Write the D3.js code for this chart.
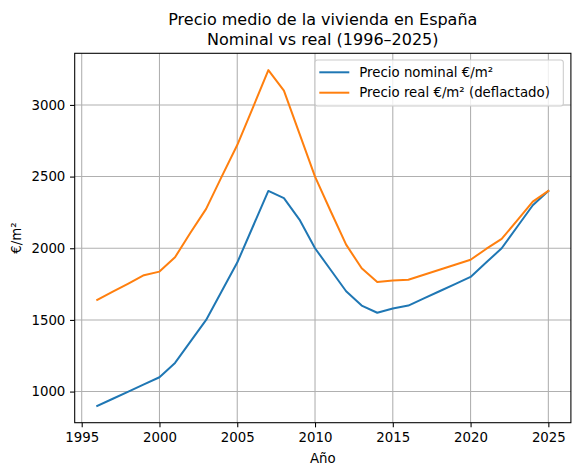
<!DOCTYPE html>
<html><head><meta charset="utf-8">
<script src="https://cdn.jsdelivr.net/npm/d3@7"></script>
<style>body{margin:0;background:#fff}svg{display:block}text{font-family:"DejaVu Sans",sans-serif;fill:#000}</style>
</head><body>
<svg id="c" width="580" height="476"></svg>
<script>
const years = d3.range(1996, 2026);
const nominal = [900,950,1000,1050,1100,1200,1350,1500,1700,1900,2150,2400,2350,2200,2000,1850,1700,1600,1550,1580,1600,1650,1700,1750,1800,1900,2000,2150,2300,2400];
const real = [1640,1697,1753,1812,1837,1937,2110,2275,2500,2720,2980,3243,3100,2800,2500,2260,2025,1860,1765,1775,1780,1815,1850,1885,1920,1995,2065,2195,2325,2400];
const seriesNames = ["Precio nominal €/m²","Precio real €/m² (deflactado)"];
const colors = ["#1f77b4","#ff7f0e"];
const xTicks = [1995,2000,2005,2010,2015,2020,2025];
const yTicks = [1000,1500,2000,2500,3000];
const titleLines = ["Precio medio de la vivienda en España","Nominal vs real (1996–2025)"];
const xLabel = "Año", yLabel = "€/m²";

const L=74.7, R=570.9, T=53.3, B=422.7;
const allV = nominal.concat(real);
const vmin=d3.min(allV), vmax=d3.max(allV), vr=vmax-vmin;
const x = d3.scaleLinear().domain([1996-1.45, 2025+1.45]).range([L,R]);
const y = d3.scaleLinear().domain([vmin-0.05*vr, vmax+0.05*vr]).range([B,T]);
const svg = d3.select("#c");

// grid
const g = svg.append("g");
g.selectAll(".gx").data(xTicks).enter().append("line")
 .attr("x1",d=>x(d)).attr("x2",d=>x(d)).attr("y1",T).attr("y2",B)
 .attr("stroke","#b0b0b0").attr("stroke-width",1.07);
g.selectAll(".gy").data(yTicks).enter().append("line")
 .attr("x1",L).attr("x2",R).attr("y1",d=>y(d)).attr("y2",d=>y(d))
 .attr("stroke","#b0b0b0").attr("stroke-width",1.07);

// lines
const line = d3.line().x((d,i)=>x(years[i])).y(d=>y(d));
[nominal, real].forEach((s,k)=>{
  svg.append("path").datum(s).attr("d",line).attr("fill","none")
   .attr("stroke",colors[k]).attr("stroke-width",2).attr("stroke-linejoin","round").attr("stroke-linecap","square");
});

// axes
const xa = svg.append("g").attr("transform",`translate(0,${B})`)
 .call(d3.axisBottom(x).tickValues(xTicks).tickFormat(d3.format("d")).tickSize(4.67).tickPadding(4.7));
const ya = svg.append("g").attr("transform",`translate(${L},0)`)
 .call(d3.axisLeft(y).tickValues(yTicks).tickFormat(d3.format("d")).tickSize(4.67).tickPadding(4.7));
[xa,ya].forEach(a=>{
  a.select(".domain").remove();
  a.selectAll(".tick line").attr("stroke","#000").attr("stroke-width",1.07);
  a.selectAll(".tick text").attr("font-size","13.33px").attr("font-family","DejaVu Sans");
});
// spines
svg.append("rect").attr("x",L).attr("y",T).attr("width",R-L).attr("height",B-T)
 .attr("fill","none").attr("stroke","#000").attr("stroke-width",1.07);

// title
svg.selectAll(".title").data(titleLines).enter().append("text")
 .attr("x",(L+R)/2).attr("y",(d,i)=>24.5+i*20.5).attr("text-anchor","middle")
 .attr("font-size","16px").text(d=>d);
// axis labels
svg.append("text").attr("x",(L+R)/2).attr("y",462.5).attr("text-anchor","middle")
 .attr("font-size","13.33px").text(xLabel);
svg.append("text").attr("transform",`translate(21,${(T+B)/2}) rotate(-90)`).attr("text-anchor","middle")
 .attr("font-size","13.33px").text(yLabel);

// legend
const lg = svg.append("g");
lg.append("rect").attr("x",315).attr("y",60).attr("width",248.3).attr("height",46)
 .attr("rx",2.5).attr("fill","#fff").attr("fill-opacity",0.8).attr("stroke","#cccccc").attr("stroke-width",1.07);
seriesNames.forEach((n,k)=>{
  const yy = 72.3 + k*20.4;
  lg.append("line").attr("x1",319.3).attr("x2",349.3).attr("y1",yy).attr("y2",yy)
   .attr("stroke",colors[k]).attr("stroke-width",2);
  lg.append("text").attr("x",359.3).attr("y",yy+4.7).attr("font-size","13.33px").text(n);
});
</script>
</body></html>
